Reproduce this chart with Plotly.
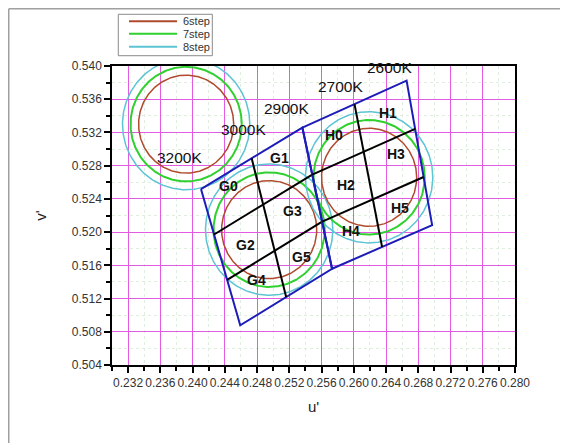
import numpy as np
import plotly.graph_objects as go

# ---------------- data ----------------
circle_center_u = [0.2392, 0.2495, 0.2619]
circle_center_v = [0.5330, 0.5203, 0.5266]

step_names = ["6step", "7step", "8step"]
step_radius = [0.0059, 0.0069, 0.0079]
step_colors = ["#b04a2c", "#2fd02f", "#5cc4d4"]
step_widths = [1.5, 2.0, 1.5]

quad_names = ["G", "H"]
# corners: top-left, top-right, bottom-right, bottom-left
quad_u = [[0.24104, 0.25362, 0.25730, 0.24591],
          [0.25362, 0.26655, 0.26972, 0.25730]]
quad_v = [[0.52518, 0.53259, 0.51559, 0.50878],
          [0.53259, 0.53823, 0.52084, 0.51559]]
quad_cols = 2
quad_rows = 3

cell_labels = ["G0", "G1", "G2", "G3", "G4", "G5",
               "H0", "H1", "H2", "H3", "H4", "H5"]
cell_u = [0.24446, 0.25077, 0.24653, 0.25243, 0.24798, 0.25355,
          0.25759, 0.26427, 0.25903, 0.26523, 0.25962, 0.26576]
cell_v = [0.52557, 0.52888, 0.51843, 0.52252, 0.51429, 0.51702,
          0.53168, 0.53437, 0.52566, 0.52939, 0.52015, 0.52291]

cct_labels = ["3200K", "3000K", "2900K", "2700K", "2600K"]
cct_u = [0.23835, 0.24628, 0.25160, 0.25829, 0.26448]
cct_v = [0.52903, 0.53241, 0.53494, 0.53759, 0.53976]

x_tick_vals = [0.232, 0.236, 0.240, 0.244, 0.248, 0.252, 0.256,
               0.260, 0.264, 0.268, 0.272, 0.276, 0.280]
x_tick_text = ["0.232", "0.236", "0.240", "0.244", "0.248", "0.252", "0.256",
               "0.260", "0.264", "0.268", "0.272", "0.276", "0.280"]
y_tick_vals = [0.504, 0.508, 0.512, 0.516, 0.520, 0.524,
               0.528, 0.532, 0.536, 0.540]
y_tick_text = ["0.504", "0.508", "0.512", "0.516", "0.520", "0.524",
               "0.528", "0.532", "0.536", "0.540"]

# ---------------- figure ----------------
FONT = "Arial, Liberation Sans, sans-serif"
fig = go.Figure()

theta = np.linspace(0, 2 * np.pi, 361)
for cu, cv in zip(circle_center_u, circle_center_v):
    for name, r, col, w in zip(step_names, step_radius, step_colors, step_widths):
        fig.add_trace(go.Scatter(
            x=cu + r * np.cos(theta), y=cv + r * np.sin(theta),
            mode="lines", line=dict(color=col, width=w),
            name=name, showlegend=False, hoverinfo="skip"))


def lerp(p, q, t):
    return (p[0] + (q[0] - p[0]) * t, p[1] + (q[1] - p[1]) * t)


for qu, qv in zip(quad_u, quad_v):
    fig.add_trace(go.Scatter(
        x=qu + [qu[0]], y=qv + [qv[0]], mode="lines",
        line=dict(color="#1c1cb8", width=2), showlegend=False, hoverinfo="skip"))
    TL, TR, BR, BL = [(qu[i], qv[i]) for i in range(4)]
    segs = []
    for c in range(1, quad_cols):
        t = c / quad_cols
        segs.append((lerp(TL, TR, t), lerp(BL, BR, t)))
    for rr in range(1, quad_rows):
        t = rr / quad_rows
        segs.append((lerp(TL, BL, t), lerp(TR, BR, t)))
    xs, ys = [], []
    for a, b in segs:
        xs += [a[0], b[0], None]
        ys += [a[1], b[1], None]
    fig.add_trace(go.Scatter(
        x=xs, y=ys, mode="lines", line=dict(color="black", width=2),
        showlegend=False, hoverinfo="skip"))

annotations = []
for t, u, v in zip(cell_labels, cell_u, cell_v):
    annotations.append(dict(x=u, y=v, xref="x", yref="y", text="<b>%s</b>" % t,
                            showarrow=False, font=dict(family=FONT, size=14, color="#111")))
for t, u, v in zip(cct_labels, cct_u, cct_v):
    annotations.append(dict(x=u, y=v, xref="x", yref="y", text=t,
                            showarrow=False, font=dict(family=FONT, size=15.5, color="#111")))

# compact key box above the plot
shapes = []
leg_x0, leg_x1 = 0.0156, 0.2489
leg_y0, leg_y1 = 1.0344, 1.1729
shapes.append(dict(type="rect", xref="paper", yref="paper",
                   x0=leg_x0, x1=leg_x1, y0=leg_y0, y1=leg_y1,
                   line=dict(color="#8a8a8a", width=1), fillcolor="white"))
row_y = [1.1495, 1.1080, 1.0645]
for name, col, yy in zip(step_names, step_colors, row_y):
    shapes.append(dict(type="line", xref="paper", yref="paper",
                       x0=0.0422, x1=0.1613, y0=yy, y1=yy,
                       line=dict(color=col, width=2)))
    annotations.append(dict(x=0.2470, y=yy, xref="paper", yref="paper", text=name,
                            xanchor="right", yanchor="middle", showarrow=False,
                            font=dict(family=FONT, size=11, color="#333")))

# outer frame (left and top edges only are visible in the page)
frame_x, frame_y = -0.2562, 1.1915
shapes.append(dict(type="line", xref="paper", yref="paper",
                   x0=frame_x, x1=frame_x, y0=-0.5, y1=frame_y,
                   line=dict(color="#a0a0a0", width=1.5), layer="below"))
shapes.append(dict(type="line", xref="paper", yref="paper",
                   x0=frame_x, x1=1.5, y0=frame_y, y1=frame_y,
                   line=dict(color="#a0a0a0", width=1.5), layer="below"))

axis_common = dict(
    showline=True, linecolor="black", linewidth=1.5, mirror=True,
    ticks="outside", ticklen=6, tickwidth=1.5, tickcolor="black",
    showgrid=True, gridcolor="#e35ae3", gridwidth=1,
    zeroline=False, tickangle=0,
    tickfont=dict(family=FONT, size=12, color="#333"),
)

minor_common = dict(dtick=0.002, ticks="outside", ticklen=4, tickwidth=1.5,
                    tickcolor="black", showgrid=True, gridcolor="#e0eee0",
                    griddash="dot", gridwidth=1)

fig.update_layout(
    width=560, height=435,
    margin=dict(l=104, r=53, t=58, b=78),
    paper_bgcolor="white", plot_bgcolor="white",
    showlegend=False,
    annotations=annotations, shapes=shapes,
    xaxis=dict(range=[0.230, 0.280], tickvals=x_tick_vals, ticktext=x_tick_text,
               minor=dict(tick0=0.230, **minor_common),
               title=dict(text="u'", font=dict(family=FONT, size=15, color="#222"),
                          standoff=12),
               **axis_common),
    yaxis=dict(range=[0.504, 0.540], tickvals=y_tick_vals, ticktext=y_tick_text,
               minor=dict(tick0=0.504, **minor_common),
               title=dict(text="v'", font=dict(family=FONT, size=15, color="#222"),
                          standoff=22),
               **axis_common),
)

fig.write_html("out.html")
